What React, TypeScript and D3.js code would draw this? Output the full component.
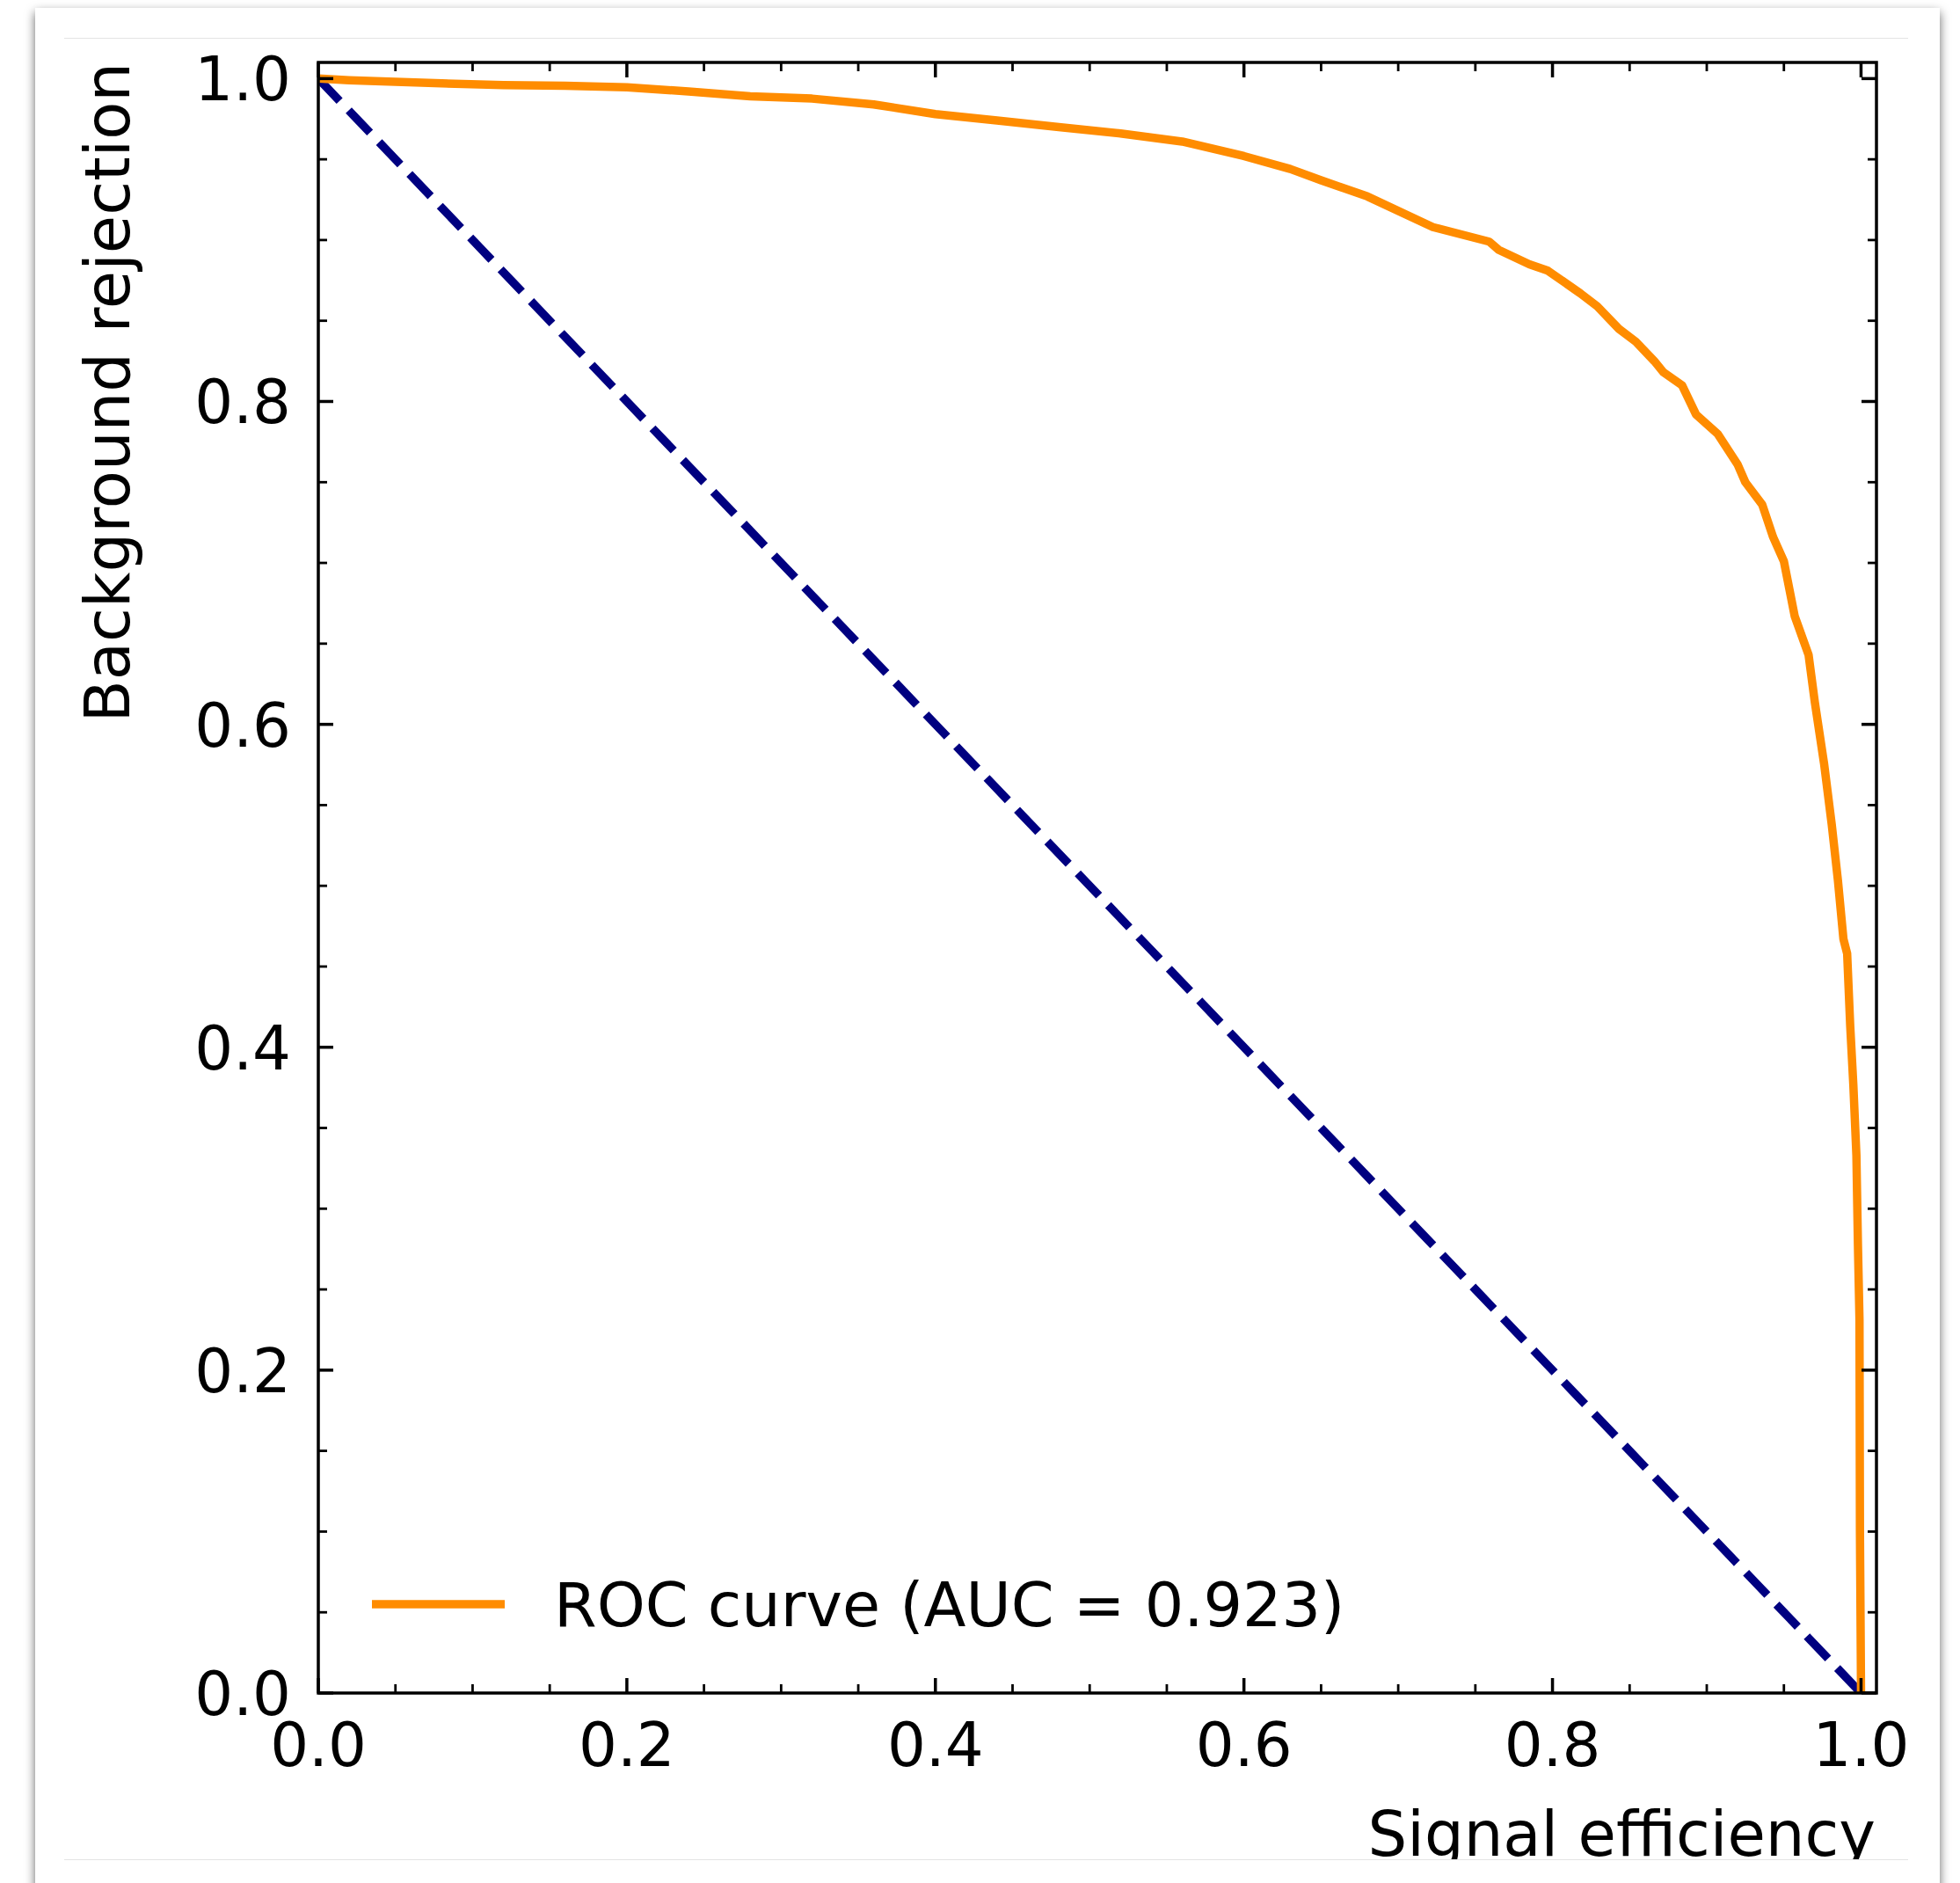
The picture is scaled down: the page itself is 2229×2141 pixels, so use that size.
import React from "react";
import * as d3 from "d3";

// ROC curve
const signalEfficiency = [
  0, 0.02, 0.05, 0.08, 0.12, 0.16, 0.2, 0.24, 0.28, 0.32, 0.36, 0.4, 0.44, 0.48, 0.52,
  0.56, 0.6, 0.63, 0.65, 0.68, 0.7225, 0.759, 0.765, 0.785, 0.797, 0.818, 0.829, 0.843,
  0.854, 0.866, 0.872, 0.884, 0.893, 0.907, 0.92, 0.925, 0.936, 0.943, 0.95, 0.957,
  0.966, 0.97, 0.976, 0.981, 0.985, 0.9886, 0.991, 0.993, 0.995, 0.997, 0.998, 0.999,
  0.9993, 1.0,
];
const backgroundRejection = [
  1.0, 0.999, 0.998, 0.997, 0.996, 0.9955, 0.9946, 0.992, 0.989, 0.9876, 0.984, 0.978,
  0.974, 0.97, 0.966, 0.961, 0.952, 0.944, 0.937, 0.927, 0.908, 0.899, 0.894, 0.885,
  0.881, 0.867, 0.859, 0.845, 0.837, 0.825, 0.818, 0.81, 0.792, 0.78, 0.761, 0.75, 0.736,
  0.716, 0.701, 0.667, 0.643, 0.614, 0.576, 0.538, 0.5035, 0.467, 0.458, 0.413, 0.377,
  0.333, 0.277, 0.231, 0.1, 0.0,
];
const chanceX = [0, 1];
const chanceY = [1, 0];

const majorTicks = [0, 0.2, 0.4, 0.6, 0.8, 1.0];
const majorTickLabels = ["0.0", "0.2", "0.4", "0.6", "0.8", "1.0"];
const minorTicks = [0.05, 0.1, 0.15, 0.25, 0.3, 0.35, 0.45, 0.5, 0.55, 0.65, 0.7, 0.75, 0.85, 0.9, 0.95];

const xLabel = "Signal efficiency";
const yLabel = "Background rejection";
const legendLabel = "ROC curve (AUC = 0.923)";

const W = 2229;
const H = 2141;
const PL = 362, PR = 2134, PT = 71, PB = 1925;
const FONT = "'DejaVu Sans', 'Liberation Sans', sans-serif";
const ORANGE = "#ff8c00";
const NAVY = "#000080";

export default function App() {
  const x = d3.scaleLinear().domain([0, 1.01]).range([PL, PR]);
  const y = d3.scaleLinear().domain([0, 1.01]).range([PB, PT]);

  const roc = signalEfficiency.map((v, i) => [v, backgroundRejection[i]] as [number, number]);
  const chance = chanceX.map((v, i) => [v, chanceY[i]] as [number, number]);
  const line = d3
    .line<[number, number]>()
    .x((d) => x(d[0]))
    .y((d) => y(d[1]));

  const MAJ = 17, MIN = 10, TW = 3.5, TWm = 2.8;

  return (
    <svg
      width={W}
      height={H}
      viewBox={`0 0 ${W} ${H}`}
      style={{ position: "absolute", left: 0, top: 0, display: "block", background: "#fff" }}
    >
      <defs>
        <filter id="cardShadow" x="-5%" y="-5%" width="110%" height="110%">
          <feDropShadow dx="0" dy="5" stdDeviation="6" floodColor="#000" floodOpacity="0.6" />
        </filter>
        <clipPath id="innerClip">
          <rect x={73} y={43} width={2097} height={2071} />
        </clipPath>
        <clipPath id="plotClip">
          <rect x={PL} y={PT} width={PR - PL} height={PB - PT} />
        </clipPath>
      </defs>

      {/* card */}
      <rect x={40} y={9} width={2166} height={2200} fill="#fff" filter="url(#cardShadow)" />
      <line x1={73} x2={2170} y1={43.5} y2={43.5} stroke="#e4e4e4" strokeWidth={1.2} />
      <line x1={73} x2={2170} y1={2114.5} y2={2114.5} stroke="#e4e4e4" strokeWidth={1.2} />

      <g clipPath="url(#innerClip)">
        {/* data lines */}
        <g clipPath="url(#plotClip)">
          <path
            d={line(chance) || ""}
            fill="none"
            stroke={NAVY}
            strokeWidth={9.5}
            strokeDasharray="35 15"
            strokeLinecap="butt"
          />
          <path
            d={line(roc) || ""}
            fill="none"
            stroke={ORANGE}
            strokeWidth={9.5}
            strokeLinejoin="round"
            strokeLinecap="butt"
          />
        </g>

        {/* ticks on all sides, inward */}
        <g stroke="#000">
          {majorTicks.map((t) => (
            <g key={"M" + t} strokeWidth={TW}>
              <line x1={x(t)} x2={x(t)} y1={PB} y2={PB - MAJ} />
              <line x1={x(t)} x2={x(t)} y1={PT} y2={PT + MAJ} />
              <line x1={PL} x2={PL + MAJ} y1={y(t)} y2={y(t)} />
              <line x1={PR} x2={PR - MAJ} y1={y(t)} y2={y(t)} />
            </g>
          ))}
          {minorTicks.map((t) => (
            <g key={"m" + t} strokeWidth={TWm}>
              <line x1={x(t)} x2={x(t)} y1={PB} y2={PB - MIN} />
              <line x1={x(t)} x2={x(t)} y1={PT} y2={PT + MIN} />
              <line x1={PL} x2={PL + MIN} y1={y(t)} y2={y(t)} />
              <line x1={PR} x2={PR - MIN} y1={y(t)} y2={y(t)} />
            </g>
          ))}
        </g>

        {/* frame */}
        <rect x={PL} y={PT} width={PR - PL} height={PB - PT} fill="none" stroke="#000" strokeWidth={3.5} />

        {/* tick labels */}
        <g fontFamily={FONT} fontSize={69} fill="#000">
          {majorTicks.map((t, i) => (
            <text key={"xl" + t} x={x(t)} y={2008} textAnchor="middle">
              {majorTickLabels[i]}
            </text>
          ))}
          {majorTicks.map((t, i) => (
            <text key={"yl" + t} x={331} y={y(t) + 25} textAnchor="end">
              {majorTickLabels[i]}
            </text>
          ))}
        </g>

        {/* axis labels */}
        <text x={2133} y={2110} textAnchor="end" fontFamily={FONT} fontSize={70.5} fill="#000">
          {xLabel}
        </text>
        <text
          transform={`translate(147, ${PT}) rotate(-90)`}
          textAnchor="end"
          fontFamily={FONT}
          fontSize={70.5}
          fill="#000"
        >
          {yLabel}
        </text>

        {/* legend */}
        <line x1={423} x2={574} y1={1824} y2={1824} stroke={ORANGE} strokeWidth={9.5} />
        <text x={630} y={1849} fontFamily={FONT} fontSize={70} fill="#000">
          {legendLabel}
        </text>
      </g>
    </svg>
  );
}
